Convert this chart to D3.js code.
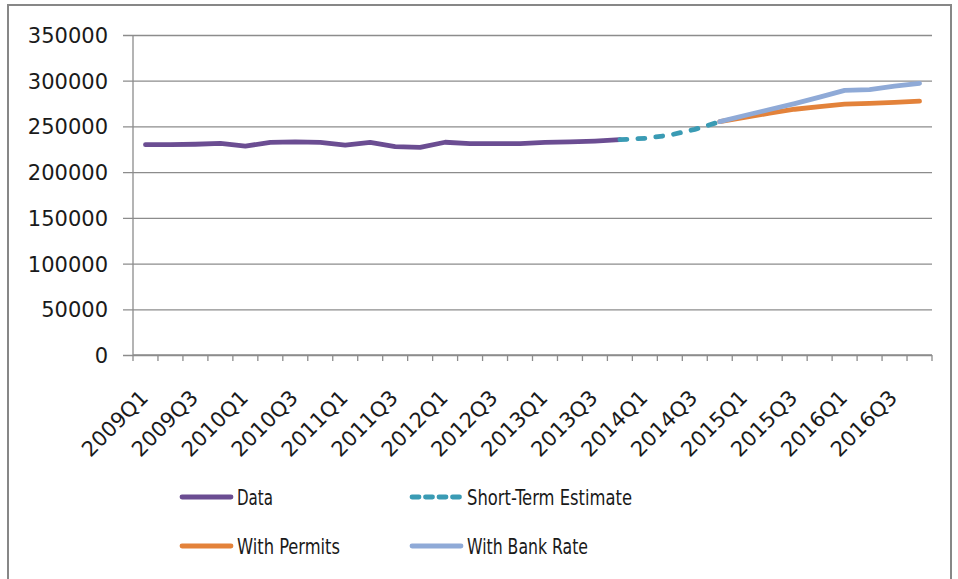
<!DOCTYPE html>
<html><head><meta charset="utf-8">
<script src="https://cdn.jsdelivr.net/npm/d3@7"></script>
<style>body{margin:0;background:#fff}svg{display:block}</style>
</head><body>
<svg id="chart" width="958" height="579"></svg>
<script>
const quarters = ["2009Q1","2009Q2","2009Q3","2009Q4","2010Q1","2010Q2","2010Q3","2010Q4",
  "2011Q1","2011Q2","2011Q3","2011Q4","2012Q1","2012Q2","2012Q3","2012Q4",
  "2013Q1","2013Q2","2013Q3","2013Q4","2014Q1","2014Q2","2014Q3","2014Q4",
  "2015Q1","2015Q2","2015Q3","2015Q4","2016Q1","2016Q2","2016Q3","2016Q4"];
const tickLabels = ["2009Q1","2009Q3","2010Q1","2010Q3","2011Q1","2011Q3","2012Q1","2012Q3",
  "2013Q1","2013Q3","2014Q1","2014Q3","2015Q1","2015Q3","2016Q1","2016Q3"];
const yTicks = [0,50000,100000,150000,200000,250000,300000,350000];
const dataSeries = [230000,230000,230500,231500,228500,232500,233000,232500,229500,232500,228000,227000,232700,231300,231100,231200,232500,233000,234000,235500,
  null,null,null,null,null,null,null,null,null,null,null,null];
const shortTerm = [null,null,null,null,null,null,null,null,null,null,null,null,null,null,null,null,null,null,null,
  235500,237000,240500,246800,255200,null,null,null,null,null,null,null,null];
const withPermits = [null,null,null,null,null,null,null,null,null,null,null,null,null,null,null,null,null,null,null,null,null,null,null,
  255200,259800,264500,268800,271600,274500,275200,276400,277700];
const withBankRate = [null,null,null,null,null,null,null,null,null,null,null,null,null,null,null,null,null,null,null,null,null,null,null,
  255200,262000,268500,275000,282000,289500,290200,294200,297100];

const series = [
  {name:"Data", values:dataSeries, color:"#6B4D92", dash:null, w:36},
  {name:"Short-Term Estimate", values:shortTerm, color:"#3A9BB4", dash:"7,11", w:165},
  {name:"With Permits", values:withPermits, color:"#E3823A", dash:null, w:103},
  {name:"With Bank Rate", values:withBankRate, color:"#8FAAD7", dash:null, w:121}
];

(function(){
const svg = d3.select("#chart");
const pL = 133, pR = 932, pT = 35, pB = 355;
const x = d3.scaleBand().domain(quarters).range([pL, pR]);
const y = d3.scaleLinear().domain([0,350000]).range([pB, pT]);
const gray = "#8c8c8c";
const axisFont = "'DejaVu Sans', sans-serif";
const legFont = "'DejaVu Sans Condensed', 'DejaVu Sans', sans-serif";

// frame
svg.append("rect").attr("x",8).attr("y",5).attr("width",943).attr("height",590)
  .attr("fill","none").attr("stroke","#878787").attr("stroke-width",2);

// gridlines + y axis
const yAxis = d3.axisLeft(y).tickValues(yTicks).tickSize(pR-pL+10).tickPadding(0).tickFormat(d3.format("d"));
const gy = svg.append("g").attr("transform",`translate(${pR},0)`).call(yAxis);
gy.select(".domain").remove();
gy.selectAll(".tick line").attr("stroke",gray).attr("stroke-width",1.3);
gy.selectAll(".tick text").attr("x",-(pR-108)).attr("dy","0.36em")
  .attr("font-family",axisFont).attr("font-size",21).attr("fill","#1a1a1a");
svg.append("line").attr("x1",pL).attr("x2",pL).attr("y1",pT).attr("y2",pB)
  .attr("stroke",gray).attr("stroke-width",1.3);

// x axis ticks at band boundaries
const bounds = quarters.map(q => x(q)).concat([pR]);
svg.append("g").selectAll("line").data(bounds).join("line")
  .attr("x1",d=>d).attr("x2",d=>d).attr("y1",pB).attr("y2",pB+6)
  .attr("stroke",gray).attr("stroke-width",1.3);
svg.append("line").attr("x1",pL).attr("x2",pR).attr("y1",pB).attr("y2",pB)
  .attr("stroke",gray).attr("stroke-width",1.3);
svg.append("g").selectAll("text").data(tickLabels).join("text")
  .attr("transform",d=>`translate(${x(d)+x.bandwidth()/2+4},399) rotate(-45)`)
  .attr("text-anchor","end").attr("font-family",axisFont).attr("font-size",21)
  .attr("fill","#1a1a1a").text(d=>d);

// lines
const line = d3.line().defined(d=>d.v!=null).x(d=>x(d.q)+x.bandwidth()/2).y(d=>y(d.v));
series.forEach(s=>{
  svg.append("path").datum(quarters.map((q,i)=>({q, v:s.values[i]})))
    .attr("d",line).attr("fill","none").attr("stroke",s.color).attr("stroke-width",4.8)
    .attr("stroke-linejoin","round").attr("stroke-linecap","round")
    .attr("stroke-dasharray",s.dash);
});

// legend
const legPos = [[180,497],[410,497],[180,546],[410,546]];
series.forEach((s,i)=>{
  const [lx,ly] = legPos[i];
  svg.append("line").attr("x1",lx+2).attr("x2",lx+51).attr("y1",ly).attr("y2",ly)
    .attr("stroke",s.color).attr("stroke-width",4.8).attr("stroke-linecap","round")
    .attr("stroke-dasharray",s.dash ? "7,6.5" : null);
  svg.append("text").attr("x",lx+57).attr("y",ly+8).attr("font-family",legFont)
    .attr("font-size",21).attr("fill","#1a1a1a")
    .attr("textLength",s.w).attr("lengthAdjust","spacingAndGlyphs").text(s.name);
});
})();
</script>
</body></html>
